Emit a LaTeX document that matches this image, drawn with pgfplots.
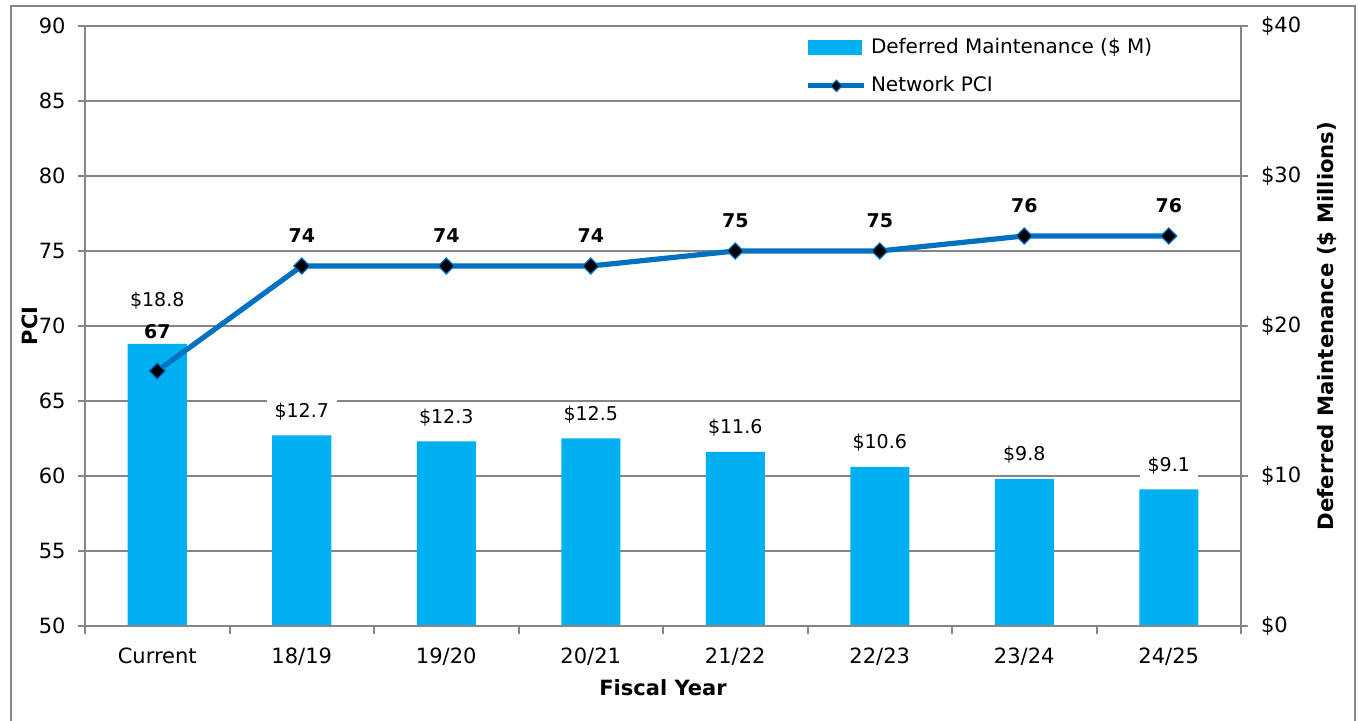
\documentclass[border=0pt]{standalone}
\usepackage{fontspec}
\setmainfont{DejaVu Sans}
\usepackage{pgfplots}
\pgfplotsset{compat=1.18}
\pgfkeys{/pgf/number format/assume math mode=true}
\definecolor{barcol}{RGB}{0,176,240}
\definecolor{linecol}{RGB}{0,112,192}
\definecolor{gridcol}{RGB}{134,134,134}
\begin{document}
\begin{tikzpicture}
\useasboundingbox (-42.5pt,-47.5pt) rectangle (636.5pt,313pt);
\draw[gridcol, line width=1pt] (-37pt,-60pt) -- (-37pt,310pt) -- (635pt,310pt) -- (635pt,-60pt);
% ---- bars on right axis
\begin{axis}[
  at={(0,0)}, anchor=south west,
  scale only axis, width=578pt, height=300pt,
  xmin=-0.5, xmax=7.5, ymin=0, ymax=40,
  axis y line*=right, axis x line=none,
  ytick={0,10,20,30,40}, yticklabels={\$0,\$10,\$20,\$30,\$40},
  minor ytick={5,15,25,35},
  ymajorgrids, yminorgrids, minor tick length=0pt,
  major grid style={gridcol, line width=0.75pt},
  minor grid style={gridcol, line width=0.75pt},
  axis line style={gridcol, line width=1pt},
  tick align=outside, major tick length=3.5pt,
  tick style={gridcol, line width=1pt},
  yticklabel style={font=\fontsize{10.5}{12}\selectfont, xshift=3pt},
  ylabel={Deferred Maintenance (\$ Millions)},
  ylabel style={at={(axis description cs:1.0744,0.5)}, anchor=center, rotate=0,
    font=\bfseries\fontsize{10.6}{12}\selectfont},
]
\addplot[ybar, bar width=29.5pt, fill=barcol, draw=none] coordinates
  {(0,18.8) (1,12.7) (2,12.3) (3,12.5) (4,11.6) (5,10.6) (6,9.8) (7,9.1)};
\addplot[draw=none, point meta=explicit symbolic, nodes near coords,
  every node near coord/.append style={font=\fontsize{9.5}{11}\selectfont,
    fill=white, inner xsep=4pt, inner ysep=2pt, anchor=south, yshift=5.6pt}]
  coordinates {(1,12.7) [\$12.7] (2,12.3) [\$12.3] (3,12.5) [\$12.5]
   (4,11.6) [\$11.6] (5,10.6) [\$10.6] (6,9.8) [\$9.8] (7,9.1) [\$9.1]};
\addplot[draw=none, point meta=explicit symbolic, nodes near coords,
  every node near coord/.append style={font=\fontsize{9.5}{11}\selectfont,
    fill=white, inner xsep=4pt, inner ysep=2pt, anchor=south, yshift=15pt}]
  coordinates {(0,18.8) [\$18.8]};
\end{axis}
% ---- line on left axis
\begin{axis}[
  at={(0,0)}, anchor=south west,
  scale only axis, width=578pt, height=300pt,
  xmin=-0.5, xmax=7.5, ymin=50, ymax=90,
  axis x line*=bottom, axis y line*=left,
  ytick={50,55,...,90},
  xtick={0,...,7},
  xticklabels={Current,18/19,19/20,20/21,21/22,22/23,23/24,24/25},
  major x tick style={draw=none},
  minor xtick={-0.5,0.5,...,7.5}, minor tick length=4pt,
  minor x tick style={gridcol, line width=1pt},
  axis line style={gridcol, line width=1pt},
  tick align=outside, major tick length=3.5pt,
  tick style={gridcol, line width=1pt},
  yticklabel style={font=\fontsize{10.5}{12}\selectfont, xshift=-2.7pt},
  xticklabel style={font=\fontsize{10.5}{12}\selectfont, yshift=-4pt},
  xlabel={Fiscal Year},
  xlabel style={at={(axis description cs:0.5,-0.1033)}, anchor=center,
    font=\bfseries\fontsize{10.5}{12}\selectfont},
  ylabel={PCI},
  ylabel style={at={(axis description cs:-0.0476,0.5)}, anchor=center,
    font=\bfseries\fontsize{10.5}{12}\selectfont},
  legend cell align=left,
  legend style={draw=none, fill=none, at={(0.618,0.993)}, anchor=north west,
    font=\fontsize{10}{12}\selectfont, row sep=6pt},
]
\addlegendimage{legend image code/.code={\fill[barcol] (0pt,-3.5pt) rectangle (26.5pt,3.5pt);}}
\addlegendentry{Deferred Maintenance (\$ M)}
\addplot[linecol, line width=2.6pt, mark=square*, mark size=2.8pt,
  mark options={rotate=45, fill=black, draw=linecol, line width=0.6pt},
  legend image code/.code={\draw[mark repeat=2,mark phase=2,mark size=2pt]
    plot coordinates {(0pt,0pt) (14pt,0pt) (28pt,0pt)};}]
  coordinates {(0,67) (1,74) (2,74) (3,74) (4,75) (5,75) (6,76) (7,76)};
\addlegendentry{Network PCI}
\addplot[draw=none, forget plot, point meta=explicit symbolic, nodes near coords,
  every node near coord/.append style={font=\bfseries\fontsize{9.5}{11}\selectfont,
    inner sep=2pt, anchor=south, yshift=9.5pt}]
  coordinates {(1,74) [74] (2,74) [74] (3,74) [74] (4,75) [75] (5,75) [75]
   (6,76) [76] (7,76) [76]};
\addplot[draw=none, forget plot, point meta=explicit symbolic, nodes near coords,
  every node near coord/.append style={font=\bfseries\fontsize{9.5}{11}\selectfont,
    inner sep=2pt, anchor=south, yshift=14pt}]
  coordinates {(0,67) [67]};
\end{axis}
\end{tikzpicture}
\end{document}
